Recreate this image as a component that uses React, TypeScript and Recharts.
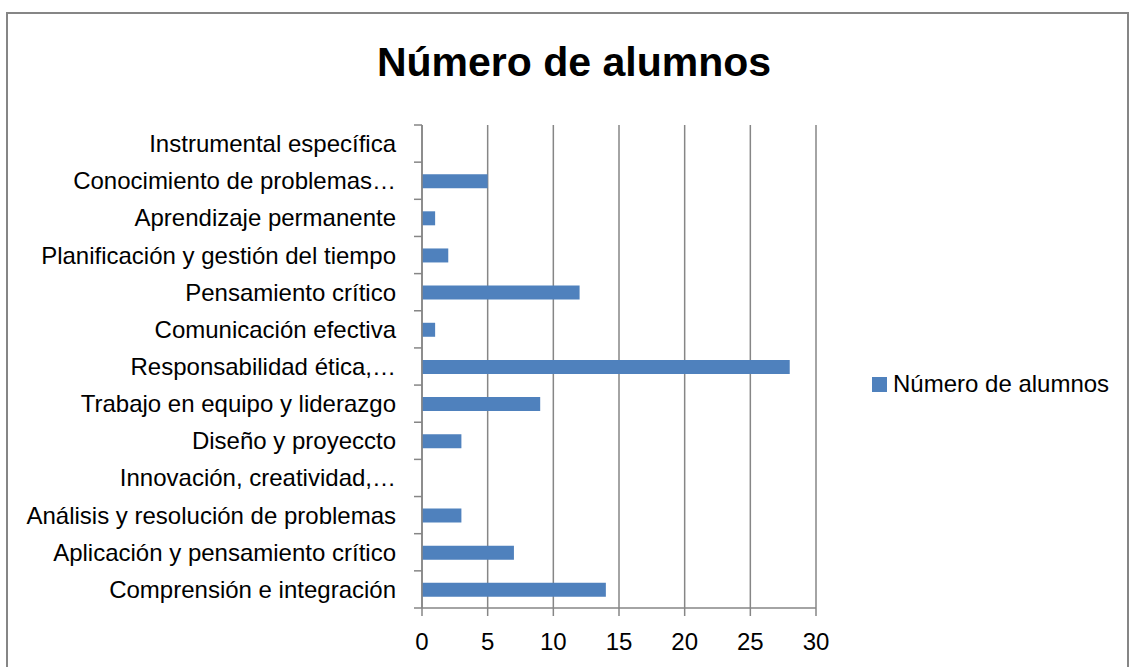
import React from 'react';
import { BarChart, Bar, XAxis, YAxis, CartesianGrid, Legend } from 'recharts';

const categories = [
  'Instrumental específica',
  'Conocimiento de problemas…',
  'Aprendizaje permanente',
  'Planificación y gestión del tiempo',
  'Pensamiento crítico',
  'Comunicación efectiva',
  'Responsabilidad ética,…',
  'Trabajo en equipo y liderazgo',
  'Diseño y proyeccto',
  'Innovación, creatividad,…',
  'Análisis y resolución de problemas',
  'Aplicación y pensamiento crítico',
  'Comprensión e integración',
];
const alumnos = [0, 5, 1, 2, 12, 1, 28, 9, 3, 0, 3, 7, 14];
const xTicks = [0, 5, 10, 15, 20, 25, 30];
const seriesName = 'Número de alumnos';

const data = categories.map((name, i) => ({ name, value: alumnos[i] }));

const FONT = '"Liberation Sans", Arial, sans-serif';
const GRAY = '#868686';
const BLUE = '#4f81bd';
const TICK_SIZE = 8;
const TICK_MARGIN = 18;
const LEGEND_W = 250;

// category labels plus the boundary tick marks between categories
const CatTick = (props: any) => {
  const { x, y, payload, index } = props;
  const half = payload && payload.offset ? payload.offset : 18.6;
  const x1 = x + TICK_MARGIN;
  const x2 = x1 + TICK_SIZE;
  return (
    <g>
      <line x1={x1} x2={x2} y1={y - half} y2={y - half} stroke={GRAY} strokeWidth={1.5} />
      {index === categories.length - 1 && (
        <line x1={x1} x2={x2} y1={y + half} y2={y + half} stroke={GRAY} strokeWidth={1.5} />
      )}
      <text x={x} y={y} textAnchor="end" dominantBaseline="central" fill="#000" fontSize={24} fontFamily={FONT}>
        {payload.value}
      </text>
    </g>
  );
};

const LegendBox = () => (
  <div style={{ display: 'flex', alignItems: 'center', fontFamily: FONT, fontSize: 24, color: '#000' }}>
    <span style={{ display: 'inline-block', width: 15, height: 15, background: BLUE, marginRight: 6 }} />
    <span>{seriesName}</span>
  </div>
);

export default function App() {
  return (
    <div style={{ position: 'absolute', left: 0, top: 0, width: 1129, height: 667, overflow: 'hidden', background: '#fff' }}>
      <div style={{ position: 'absolute', left: 6, top: 12, width: 1119, height: 720, border: `2px solid ${GRAY}` }} />
      <div style={{ position: 'absolute', left: 0, top: 39, width: 1148, textAlign: 'center', fontFamily: FONT, fontWeight: 'bold', fontSize: 41, lineHeight: '46px', color: '#000' }}>
        Número de alumnos
      </div>
      <div style={{ position: 'absolute', left: 0, top: 0 }}>
        <BarChart width={1129} height={667} data={data} layout="vertical" margin={{ top: 125, right: 313 - LEGEND_W, bottom: 0, left: 0 }}>
          <CartesianGrid horizontal={false} stroke={GRAY} strokeWidth={1.5} />
          <XAxis
            type="number"
            domain={[0, 30]}
            ticks={xTicks}
            height={59}
            tickSize={TICK_SIZE}
            tickMargin={17}
            axisLine={{ stroke: GRAY, strokeWidth: 1.5 }}
            tickLine={{ stroke: GRAY, strokeWidth: 1.5 }}
            tick={{ fill: '#000', fontSize: 24, fontFamily: FONT }}
          />
          <YAxis
            type="category"
            dataKey="name"
            width={422}
            interval={0}
            tickSize={TICK_SIZE}
            tickMargin={TICK_MARGIN}
            tickLine={false}
            axisLine={{ stroke: GRAY, strokeWidth: 1.5 }}
            tick={<CatTick />}
          />
          <Legend
            layout="vertical"
            align="right"
            verticalAlign="top"
            content={<LegendBox />}
            wrapperStyle={{ left: 872, top: 370, width: LEGEND_W, right: 'auto' }}
          />
          <Bar dataKey="value" name={seriesName} fill={BLUE} barSize={14} isAnimationActive={false} />
        </BarChart>
      </div>
    </div>
  );
}
